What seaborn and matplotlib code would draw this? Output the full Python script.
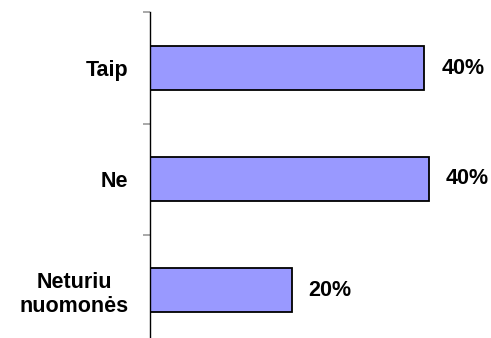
import matplotlib
matplotlib.use("Agg")
import matplotlib.pyplot as plt
import seaborn as sns
import pandas as pd
from matplotlib.ticker import FixedLocator

categories = ["Taip", "Ne", "Neturiu\nnuomonės"]
values = [39.5, 40.1, 20.4]
value_labels = ["40%", "40%", "20%"]

sns.set_theme(style="white")
plt.rcParams['font.family'] = ['Liberation Sans', 'DejaVu Sans']

df = pd.DataFrame({"cat": categories, "val": values})

fig = plt.figure(figsize=(4.91, 3.38), dpi=100)
ax = fig.add_axes([150/491, -7.5/338, 0.651, 333/338])

sns.barplot(data=df, y="cat", x="val", orient="h", color="#9999FF",
            saturation=1, edgecolor="black", linewidth=1.3, width=0.405, ax=ax)

ax.set_xlim(0, 46)
ax.set_ylim(2.5, -0.5)
ax.set_xlabel("")
ax.set_ylabel("")
ax.set_xticks([])

for s in ["top", "right", "bottom"]:
    ax.spines[s].set_visible(False)
ax.spines["left"].set_color("black")
ax.spines["left"].set_linewidth(1.0)

ax.tick_params(axis="y", which="major", length=0, pad=15.5)
ax.yaxis.set_minor_locator(FixedLocator([-0.5, 0.5, 1.5, 2.5]))
ax.tick_params(axis="y", which="minor", left=True, length=5, width=1.2, color="#999999")
for lab in ax.get_yticklabels():
    lab.set_fontsize(15.5)
    lab.set_fontweight("bold")
    lab.set_multialignment("center")
    lab.set_color("black")

for i, (v, t) in enumerate(zip(values, value_labels)):
    ax.annotate(t, (v, i), xytext=(12, 0), textcoords="offset points",
                ha="left", va="center", fontsize=15.5, fontweight="bold", color="black")

fig.savefig("out.png", dpi=100)
